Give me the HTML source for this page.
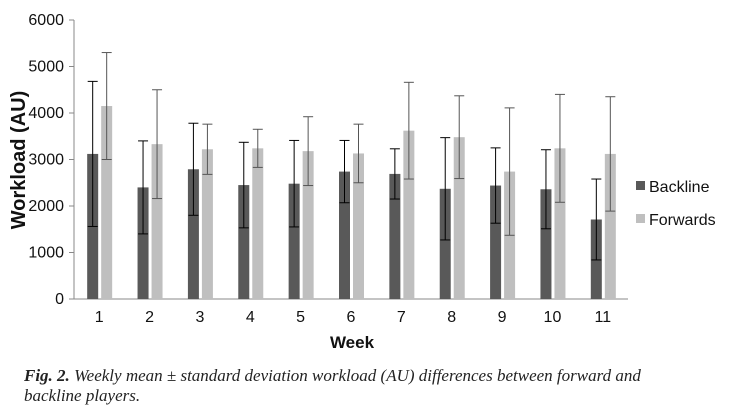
<!DOCTYPE html>
<html><head><meta charset="utf-8"><style>
body{margin:0;background:#fff;width:736px;height:412px;overflow:hidden}
svg{font-family:"Liberation Sans",sans-serif}
.cap{position:absolute;left:24px;top:366px;font-family:"Liberation Serif",serif;font-style:italic;font-size:17px;line-height:20px;color:#222;width:710px}
</style></head><body>
<svg width="736" height="412" style="position:absolute;left:0;top:0">
<g id="g"></g>
</svg>
<div class="cap"><b>Fig. 2.</b> Weekly mean ± standard deviation workload (AU) differences between forward and<br>backline players.</div>
<script>
const weeks=["1","2","3","4","5","6","7","8","9","10","11"];
const backMean=[3120,2400,2790,2450,2480,2740,2690,2370,2440,2360,1710];
const backSD=[1560,1000,990,920,930,670,540,1100,810,850,870];
const fwdMean=[4150,3330,3220,3240,3180,3130,3620,3480,2740,3240,3120];
const fwdSD=[1150,1170,540,410,740,630,1040,890,1370,1160,1230];
const yTicks=[0,1000,2000,3000,4000,5000,6000];
const NS="http://www.w3.org/2000/svg";
const g=document.getElementById('g');
const x0=74,x1=628,yb=299,yt=20;
const y=v=>yb-(v/6000)*(yb-yt);
const step=(x1-x0)/weeks.length;
const cx=i=>x0+step*(i+0.5);
function el(t,a,p){const e=document.createElementNS(NS,t);for(const k in a)e.setAttribute(k,a[k]);(p||g).appendChild(e);return e;}
let ax=el('line',{x1:x0,y1:yt,x2:x0,y2:yb,stroke:'#888'});


let xa=el('line',{x1:x0,y1:yb,x2:x1,y2:yb,stroke:'#888'});


yTicks.forEach(v=>{
 el('line',{x1:x0-5,y1:y(v),x2:x0,y2:y(v),stroke:'#888'});
 const t=el('text',{x:x0-10,y:y(v)+5,'text-anchor':'end','font-size':16,fill:'#111'});t.textContent=v;
 
 
});
function errbar(xc,m,s,col){
 el('line',{x1:xc,y1:y(m+s),x2:xc,y2:y(m-s),stroke:col});
 el('line',{x1:xc-5,y1:y(m+s),x2:xc+5,y2:y(m+s),stroke:col});
 el('line',{x1:xc-5,y1:y(m-s),x2:xc+5,y2:y(m-s),stroke:col});
}
weeks.forEach((w,i)=>{
 const c=cx(i);
 const b=el('rect',{x:c-12,y:y(backMean[i]),width:11,height:yb-y(backMean[i]),fill:'#595959'});
 
 
 const f=el('rect',{x:c+2,y:y(fwdMean[i]),width:11,height:yb-y(fwdMean[i]),fill:'#bfbfbf'});
 
 
 errbar(c-6.5,backMean[i],backSD[i],'#000');
 errbar(c+7.5,fwdMean[i],fwdSD[i],'#555');
 const t=el('text',{x:c,y:322,'text-anchor':'middle','font-size':16,fill:'#111'});t.textContent=w;
 
 
});
let xt=el('text',{x:352,y:348,'text-anchor':'middle','font-size':17,'font-weight':'bold',fill:'#111'});xt.textContent='Week';


let yl=el('text',{x:0,y:0,transform:'translate(25,160) rotate(-90)','text-anchor':'middle','font-size':20,'font-weight':'bold',fill:'#111'});yl.textContent='Workload (AU)';


[["Backline","#595959",186],["Forwards","#bfbfbf",219]].forEach(([n,c,yy])=>{
 const r=el('rect',{x:636,y:yy-5,width:9,height:9,fill:c});
 
 
 const t=el('text',{x:649,y:yy+6,'font-size':16,fill:'#111'});t.textContent=n;
 
 
});
</script>
</body></html>
